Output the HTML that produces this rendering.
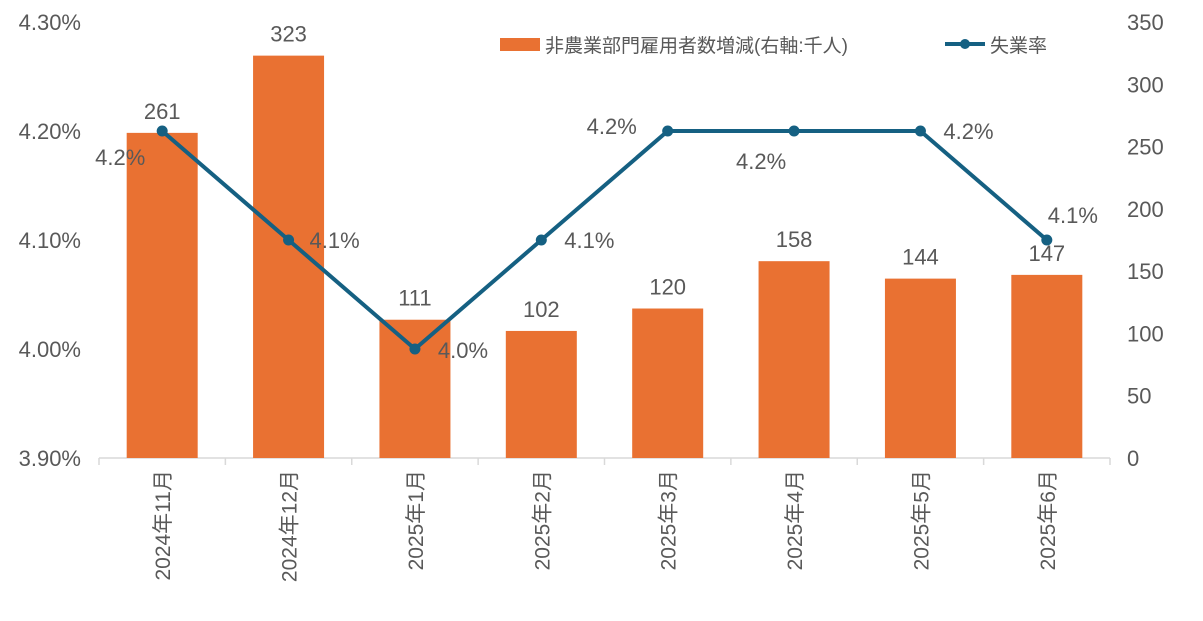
<!DOCTYPE html>
<html><head><meta charset="utf-8"><style>
body{margin:0;background:#fff;}
svg text{font-family:"Liberation Sans","Noto Sans CJK JP",sans-serif;fill:#595959;}
</style></head><body>
<svg id="chart" width="1203" height="616" xmlns="http://www.w3.org/2000/svg">
<g id="axes"></g><g id="bars"></g><g id="line"></g><g id="labels"></g>
<g>
<rect x="500" y="38" width="40" height="13" fill="#E97132"/>
<text x="545" y="52" font-size="19" fill="#404040">非農業部門雇用者数増減(右軸:千人)</text>
<line x1="945" y1="44" x2="985" y2="44" stroke="#156082" stroke-width="4"/>
<circle cx="965" cy="44" r="5" fill="#156082"/>
<text x="990" y="52" font-size="19" fill="#404040">失業率</text>
</g>
</svg>
<script>
const categories=["2024年11月","2024年12月","2025年1月","2025年2月","2025年3月","2025年4月","2025年5月","2025年6月"];
const payrolls=[261,323,111,102,120,158,144,147];
const unemployment=[4.2,4.1,4.0,4.1,4.2,4.2,4.2,4.1];
const leftTicks=[3.9,4.0,4.1,4.2,4.3];
const rightTicks=[0,50,100,150,200,250,300,350];
const NS="http://www.w3.org/2000/svg";
const x0=99,x1=1110,yB=458,yT=22;
const bw=(x1-x0)/categories.length;
const xc=i=>x0+bw*(i+0.5);
const yL=v=>yB-(v-3.9)/0.4*(yB-yT);
const yR=v=>yB-v/350*(yB-yT);
function mk(tag,attrs,parent){const e=document.createElementNS(NS,tag);for(const k in attrs)e.setAttribute(k,attrs[k]);document.getElementById(parent).appendChild(e);return e;}
// axis
let ax=mk('line',{x1:x0,y1:yB,x2:x1,y2:yB,stroke:'#d9d9d9','stroke-width':1.5},'axes');


for(let i=0;i<=categories.length;i++){
 const t=mk('line',{x1:x0+bw*i,y1:yB,x2:x0+bw*i,y2:yB+7,stroke:'#d9d9d9','stroke-width':1.5},'axes');
 
 
}
leftTicks.forEach(v=>{
 const t=mk('text',{x:81,y:yL(v)+8,'text-anchor':'end','font-size':22},'axes');
 t.textContent=v.toFixed(2)+'%';
 
 
});
rightTicks.forEach(v=>{
 const t=mk('text',{x:1127,y:yR(v)+8,'text-anchor':'start','font-size':22},'axes');
 t.textContent=v;
 
 
});
categories.forEach((c,i)=>{
 const t=mk('text',{x:0,y:0,'text-anchor':'end','font-size':21,transform:`translate(${xc(i)+8},470) rotate(-90)`},'axes');
 t.textContent=c;
 
 
});
// bars
payrolls.forEach((v,i)=>{
 const r=mk('rect',{x:xc(i)-35.5,y:yR(v),width:71,height:yB-yR(v),fill:'#E97132'},'bars');
 
 
 const t=mk('text',{x:xc(i),y:yR(v)-14,'text-anchor':'middle','font-size':22,fill:'#404040'},'labels');
 t.textContent=v;
 
 
});
// line
const pts=unemployment.map((v,i)=>xc(i)+','+yL(v)).join(' ');
const pl=mk('polyline',{points:pts,fill:'none',stroke:'#156082','stroke-width':4,'stroke-linejoin':'round'},'line');


const off=[[-42,34],[46,8],[48,9],[48,8],[-56,3],[-33,38],[48,8],[26,-17]];
unemployment.forEach((v,i)=>{
 const c=mk('circle',{cx:xc(i),cy:yL(v),r:5.5,fill:'#156082'},'line');
 
 
 const t=mk('text',{x:xc(i)+off[i][0],y:yL(v)+off[i][1],'text-anchor':'middle','font-size':22,fill:'#404040'},'labels');
 t.textContent=v.toFixed(1)+'%';
 
 
});
</script>
</body></html>
